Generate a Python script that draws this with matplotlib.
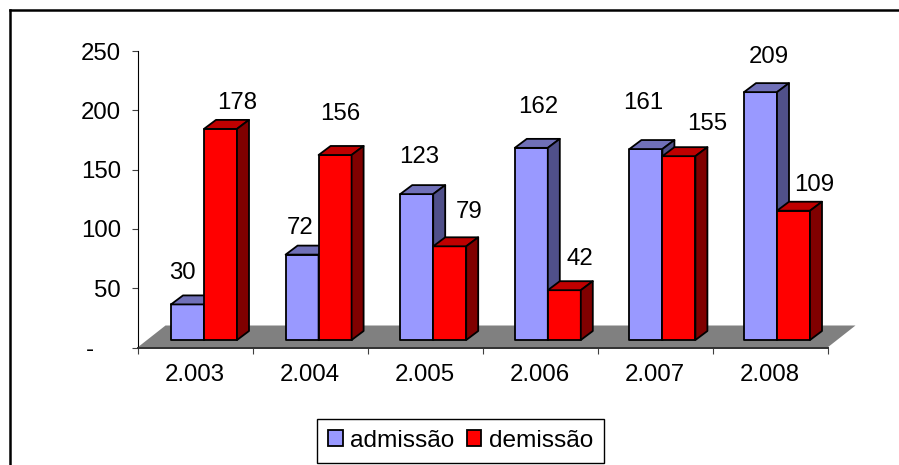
"""3D-look column chart: admissions and dismissals per year."""

import matplotlib

matplotlib.use("Agg")
import matplotlib.pyplot as plt
from matplotlib.patches import Patch, Polygon
from matplotlib.transforms import ScaledTranslation

plt.rcParams["font.family"] = ["Liberation Sans", "DejaVu Sans"]

YEARS = ["2.003", "2.004", "2.005", "2.006", "2.007", "2.008"]
ADMISSAO = [30, 72, 123, 162, 161, 209]
DEMISSAO = [178, 156, 79, 42, 155, 109]
Y_TICKS = [0, 50, 100, 150, 200, 250]
Y_LABELS = ["-    ", "50", "100", "150", "200", "250"]

# hand-placed data labels, pixels from the top centre of each bar
ADM_OFFSETS = [(-5, 31), (-2, 27), (2, 37), (7, 41), (-3, 46), (8, 35)]
DEM_OFFSETS = [(17, 26), (5, 41), (19, 34), (16, 31), (28, 32), (21, 26)]

BLUE = ("#9999FF", "#7070B8", "#50508A")
RED = ("#FF0000", "#BF0000", "#800000")
FLOOR = "#808080"

W, H = 899, 465
AX_LEFT, AX_RIGHT, AX_TOP, AX_BOTTOM = 137.5, 827.5, 51, 347.5
PX_X = (AX_RIGHT - AX_LEFT) / len(YEARS)
PX_Y = (AX_BOTTOM - AX_TOP) / 250

GROUP_STEP = 114.6 / PX_X
BAR_START = 33.5 / PX_X
BAR_WIDTH = 33 / PX_X
BASE = 7.5 / PX_Y
DEPTH_X, DEPTH_Y = 12 / PX_X, 9 / PX_Y
FLOOR_X, FLOOR_Y = 28 / PX_X, 22 / PX_Y
FONT = 17.3


def draw_bar(ax, x0, value, colors, order):
    x1 = x0 + BAR_WIDTH
    top = BASE + value
    front = [(x0, BASE), (x1, BASE), (x1, top), (x0, top)]
    roof = [(x0, top), (x1, top), (x1 + DEPTH_X, top + DEPTH_Y), (x0 + DEPTH_X, top + DEPTH_Y)]
    side = [(x1, BASE), (x1 + DEPTH_X, BASE + DEPTH_Y), (x1 + DEPTH_X, top + DEPTH_Y), (x1, top)]
    for pts, color in zip((front, roof, side), colors):
        ax.add_patch(Polygon(pts, closed=True, facecolor=color, edgecolor="black",
                             linewidth=1.3, joinstyle="round", zorder=order, clip_on=False))
    return (x0 + x1) / 2, top


def main():
    fig = plt.figure(figsize=(W / 100, H / 100), dpi=100)
    ax = fig.add_axes([AX_LEFT / W, 1 - AX_BOTTOM / H, (AX_RIGHT - AX_LEFT) / W, (AX_BOTTOM - AX_TOP) / H])
    ax.set_xlim(0, len(YEARS))
    ax.set_ylim(0, 250)

    n = len(YEARS)
    ax.add_patch(Polygon([(0, 0), (n, 0), (n + FLOOR_X, FLOOR_Y), (FLOOR_X, FLOOR_Y)], closed=True,
                         facecolor=FLOOR, edgecolor="none", zorder=1, clip_on=False))

    order = 2
    for i, (adm, dem) in enumerate(zip(ADMISSAO, DEMISSAO)):
        x_adm = i * GROUP_STEP + BAR_START
        for x0, value, colors, offset in (
            (x_adm, adm, BLUE, ADM_OFFSETS[i]),
            (x_adm + BAR_WIDTH, dem, RED, DEM_OFFSETS[i]),
        ):
            cx, top = draw_bar(ax, x0, value, colors, order)
            order += 1
            ax.annotate(str(value), (cx, top), xytext=offset, textcoords="offset pixels",
                        ha="center", va="center", fontsize=FONT, color="black", zorder=30)

    ax.spines[["top", "right"]].set_visible(False)
    ax.spines["left"].set_linewidth(0.8)
    ax.spines["bottom"].set_linewidth(1.4)
    ax.spines["bottom"].set_color("#303030")
    ax.spines["bottom"].set_zorder(20)

    ax.set_yticks(Y_TICKS)
    ax.set_yticklabels(Y_LABELS, fontsize=FONT)
    nudge = ScaledTranslation(0, 1.5 / 100, fig.dpi_scale_trans)
    for label in ax.get_yticklabels():
        label.set_transform(label.get_transform() + nudge)
    ax.set_xticks(range(n + 1))
    ax.set_xticklabels([""] * (n + 1))
    ax.set_xticks([i + 0.5 for i in range(n)], minor=True)
    ax.set_xticklabels(YEARS, minor=True, fontsize=FONT)
    ax.tick_params(axis="x", which="major", length=4.5, width=0.8, color="#404040")
    ax.tick_params(axis="x", which="minor", length=0, pad=12)
    ax.tick_params(axis="y", length=4, width=0.8, pad=8, color="#404040")

    # chart border: only left and top fall inside the image
    fig.add_artist(plt.Line2D([10 / W, 10 / W], [0, 1 - 10 / H], color="black", linewidth=1.8))
    fig.add_artist(plt.Line2D([10 / W, 1], [1 - 10 / H, 1 - 10 / H], color="black", linewidth=1.8))

    handles = [Patch(facecolor=BLUE[0], edgecolor="black", linewidth=1.3, label="admissão"),
               Patch(facecolor=RED[0], edgecolor="black", linewidth=1.3, label="demissão")]
    fig.legend(handles=handles, loc="center", bbox_to_anchor=(460.5 / W, 1 - 440.5 / H),
               ncol=2, fontsize=17.6, frameon=True, fancybox=False, framealpha=1, edgecolor="black",
               handlelength=0.6, handleheight=0.6, handletextpad=0.3, columnspacing=0.5,
               borderpad=0.45, borderaxespad=0)

    fig.savefig("out.png", dpi=100)
    plt.close(fig)


if __name__ == "__main__":
    main()
